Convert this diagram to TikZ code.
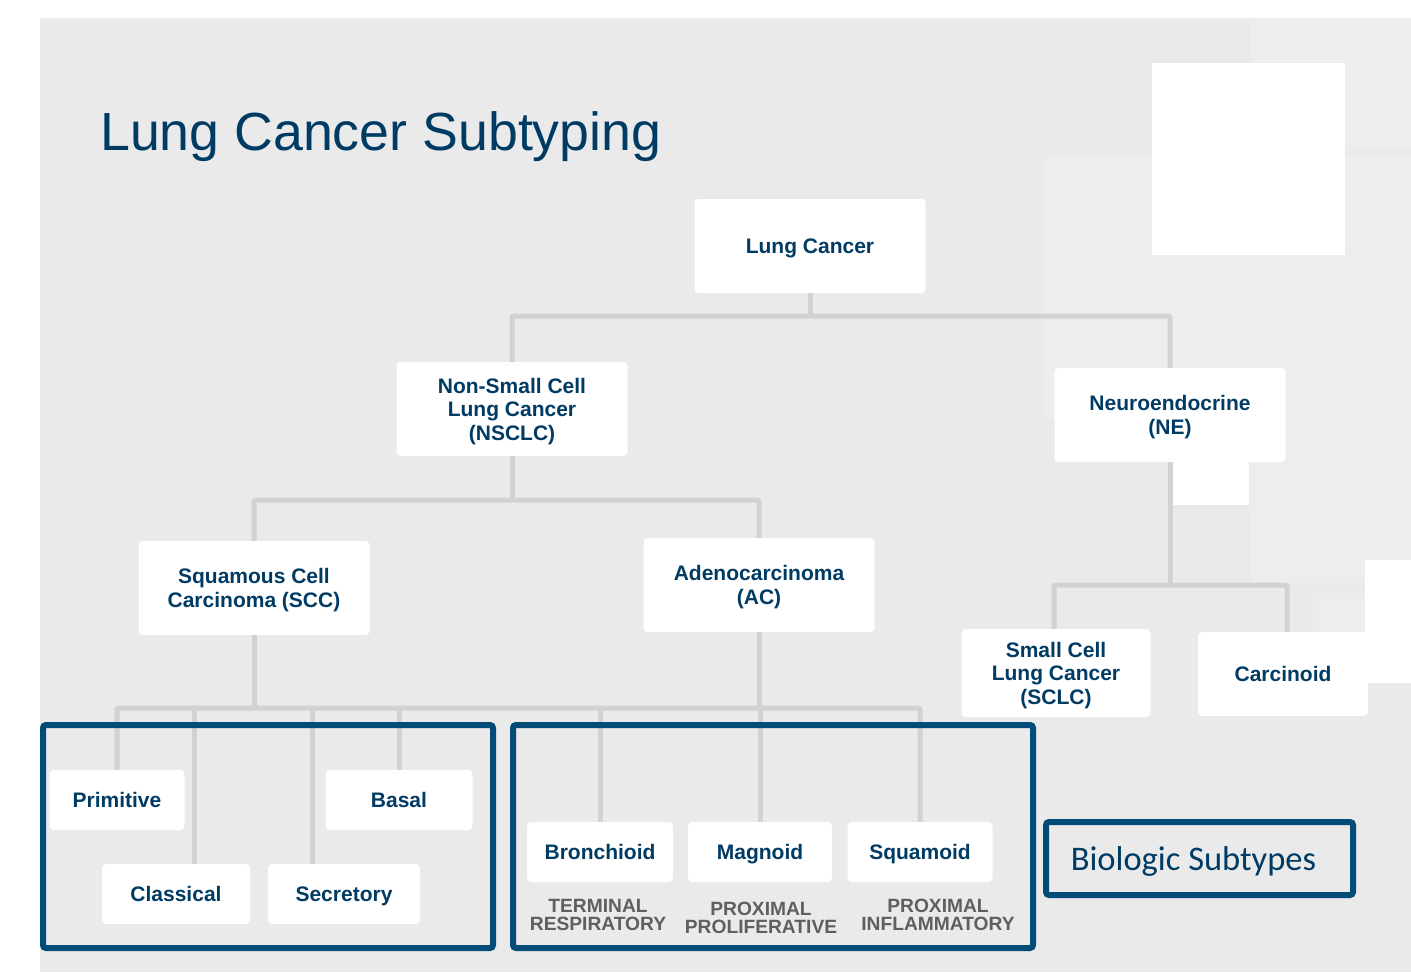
\documentclass[tikz,border=0pt]{standalone}
\usepackage{fontspec}
\setmainfont{Liberation Sans}
\newfontfamily\calibfont{Carlito}
\usetikzlibrary{positioning}
\definecolor{navy}{HTML}{003B64}
\definecolor{framecol}{HTML}{044C78}
\definecolor{bggray}{HTML}{EAEAEA}
\definecolor{lightpatch}{HTML}{EDEDED}
\definecolor{linkgray}{HTML}{D2D2D2}
\definecolor{labgray}{HTML}{5F5F5F}

\begin{document}
\begin{tikzpicture}[x=1pt, y=-1pt,
    box/.style={fill=white, rounded corners=4pt, text=navy, align=center,
        font=\fontsize{21}{23.5}\selectfont\bfseries, inner sep=0pt, text depth=0pt},
    big/.style={box, minimum width=231pt, minimum height=94pt},
    small/.style={box, minimum height=60pt},
    link/.style={draw=linkgray, line width=5pt, rounded corners=2pt},
    group/.style={draw=framecol, line width=6pt, rounded corners=3pt},
    note/.style={text=labgray, align=center, font=\fontsize{19.2}{18}\selectfont\bfseries}]
    \useasboundingbox (0,0) rectangle (1411,972);
    % page background
    \fill[white] (0,0) rectangle (1411,972);
    \fill[bggray] (40,18) rectangle (1411,972);
    \fill[lightpatch] (1250,18) rectangle (1411,150);
    \fill[lightpatch] (1045,157) rectangle (1411,420);
    \fill[lightpatch] (1250,420) rectangle (1411,583);
    \fill[lightpatch] (1313,593) rectangle (1411,683);
    \fill[white] (1152,63) rectangle (1345,255);
    \fill[white] (1172,461) rectangle (1249,505);
    \fill[white] (1365,560) rectangle (1411,683);

    \node[anchor=base west, inner sep=0pt, text=navy, font=\fontsize{53.7}{60}\selectfont] (title) at (100,150) {Lung Cancer Subtyping};

    % tree
    \node[big] (lung) at (810,246) {Lung Cancer};
    \node[big] (nsclc) at (512,409) {Non-Small Cell\\Lung Cancer\\(NSCLC)};
    \node[big] (ne) at (1170,415) {Neuroendocrine\\(NE)};
    \node[big] (scc) at (254,588) {Squamous Cell\\Carcinoma (SCC)};
    \node[big] (ac) at (759,585) {Adenocarcinoma\\(AC)};
    \node[box, minimum width=189pt, minimum height=88pt] (sclc) at (1056,673) {Small Cell\\Lung Cancer\\(SCLC)};
    \node[box, minimum width=170pt, minimum height=84pt] (carc) at (1283,674) {Carcinoid};

    % subtypes
    \node[small, minimum width=135pt] (prim) at (117,800) {Primitive};
    \node[small, minimum width=147pt] (basal) at (399,800) {Basal};
    \node[small, minimum width=148pt] (class) at (176,894) {Classical};
    \node[small, minimum width=152pt] (secr) at (344,894) {Secretory};
    \node[small, minimum width=146pt] (bron) at (600,852) {Bronchioid};
    \node[small, minimum width=144pt] (magn) at (760,852) {Magnoid};
    \node[small, minimum width=145pt] (squa) at (920,852) {Squamoid};

    \node[note] (term) at (598,915) {TERMINAL\\RESPIRATORY};
    \node[note] (prol) at (761,918) {PROXIMAL\\PROLIFERATIVE};
    \node[note] (infl) at (938,915) {PROXIMAL\\INFLAMMATORY};

    % connectors
    \coordinate (j1) at (810,316);
    \coordinate (j2) at (512,500);
    \coordinate (j3) at (1170,585);
    \coordinate (j4) at (254,708);
    \draw[link] (lung.south) -- (j1);
    \draw[link] (nsclc.north) |- (j1) -| (ne.north);
    \draw[link] (nsclc.south) -- (j2);
    \draw[link] (scc.north) |- (j2) -| (ac.north);
    \draw[link] (ne.south) -- (j3);
    \draw[link] ([xshift=-2pt]sclc.north) |- (j3) -| ([xshift=4pt]carc.north);
    \draw[link] (scc.south) -- (j4);
    \draw[link] (ac.south) -- (ac.south |- j4);
    \draw[link] (prim.north) |- (j4) -| (squa.north);
    \draw[link] ([xshift=18pt]class.north) -- ([xshift=18pt]class.north |- j4);
    \draw[link] ([xshift=-32pt]secr.north) -- ([xshift=-32pt]secr.north |- j4);
    \foreach \n in {basal,bron,magn}
        \draw[link] (\n.north) -- (\n.north |- j4);

    % groups
    \draw[group] (43,725) rectangle (493,948);
    \draw[group] (513,725) rectangle (1033,948);
    \draw[group] (1046,822) rectangle (1353,895);
    \node[text=navy, font=\calibfont\fontsize{34.5}{40}\selectfont] (bio) at (1193.5,861) {Biologic Subtypes};
\end{tikzpicture}
\end{document}
